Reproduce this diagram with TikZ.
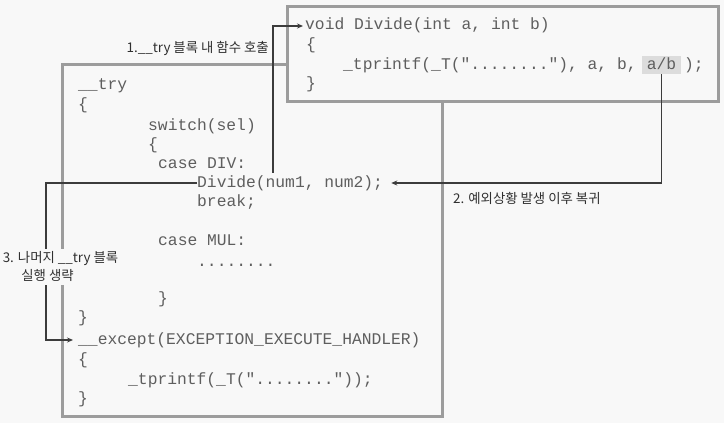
\documentclass[tikz,border=0pt]{standalone}
\usepackage{fontspec}
\setmainfont{Liberation Sans}
\setmonofont{Liberation Mono}
\newfontfamily\krfont{Noto Sans CJK KR}
\usetikzlibrary{arrows.meta,calc}
\definecolor{bg}{HTML}{F8F8F8}
\definecolor{boxc}{HTML}{9C9C9C}
\definecolor{codec}{HTML}{5E5E5E}
\definecolor{arrc}{HTML}{3C3C3C}
\definecolor{hl}{HTML}{DCDCDC}
\definecolor{labc}{HTML}{303030}
\begin{document}
\begin{tikzpicture}[x=1pt,y=-1pt,
  code/.style={anchor=base west, inner sep=0pt, text height=10pt, text depth=2pt,
    font=\ttfamily\fontsize{16.3}{19}\selectfont, text=codec},
  frame/.style={draw=boxc, line width=3pt, fill=bg, anchor=north west, inner sep=0pt},
  flow/.style={draw=arrc, line width=1.4pt, -{Stealth[length=6pt,width=5pt]}},
  lab/.style={font=\krfont\fontsize{13.4}{15}\selectfont, text=labc, inner sep=1pt}]
\useasboundingbox[fill=bg] (0,0) rectangle (724,423);

% try block frame
\node[frame, minimum width=380pt, minimum height=352pt] (trybox) at (61,63) {};
\node[code] (try)    at (78,89)  {\_\_try};
\node[code] (ob1)    at (78,109) {\{};
\node[code] (sw)     at (148,130) {switch(sel)};
\node[code] (ob2)    at (148,149) {\{};
\node[code] (cdiv)   at (158,168) {case DIV:};
\node[code] (divcall) at (197,187) {Divide(num1, num2);};
\node[code] (brk)    at (197,206) {break;};
\node[code] (cmul)   at (158,245) {case MUL:};
\node[code] (dots)   at (197,266) {........};
\node[code] (cb2)    at (158,303) {\}};
\node[code] (cb1)    at (78,322) {\}};
\node[code] (except) at (78,344) {\_\_except(EXCEPTION\_EXECUTE\_HANDLER)};
\node[code] (ob3)    at (78,364) {\{};
\node[code] (tp2)    at (128,384) {\_tprintf(\_T("........"));};
\node[code] (cb3)    at (78,403) {\}};

% Divide function frame
\node[frame, minimum width=431pt, minimum height=95pt] (fnbox) at (286,5) {};
\node[code] (voidl) at (305,30) {void Divide(int a, int b)};
\node[code] (ob4)   at (306,49) {\{};
\node[code] (tp1)   at (343,69) {\_tprintf(\_T("........"), a, b,};
\node[code, anchor=base, fill=hl, inner xsep=5pt, inner ysep=3pt] (ab) at (661.5,69) {a/b};
\node[code] (cls)   at (684,69) {);};
\node[code] (cb4)   at (306,88) {\}};

% connectors
\draw[flow, shorten >=2pt] ([xshift=76pt,yshift=4pt]divcall.north west) |- (voidl.west);
\draw[flow, shorten >=8pt] (ab.south) |- (divcall.east);
\coordinate (c3) at (46,183);
\draw[flow, shorten >=5pt] (divcall.west) -- (c3) |- (except.west);

% labels
\node[lab, anchor=east] (l1) at (270,48) {1.\_\_try 블록 내 함수 호출};
\node[lab, anchor=west] (l2) at (452,198) {2. 예외상황 발생 이후 복귀};
\node[lab, fill=bg, text height=11pt, text depth=3pt, inner ysep=2pt] (l3a) at (60.5,258) {3. 나머지 \_\_try 블록};
\node[lab, fill=bg, text height=11pt, text depth=3pt, inner ysep=2pt] (l3b) at (47.5,276) {실행 생략};
\end{tikzpicture}
\end{document}
